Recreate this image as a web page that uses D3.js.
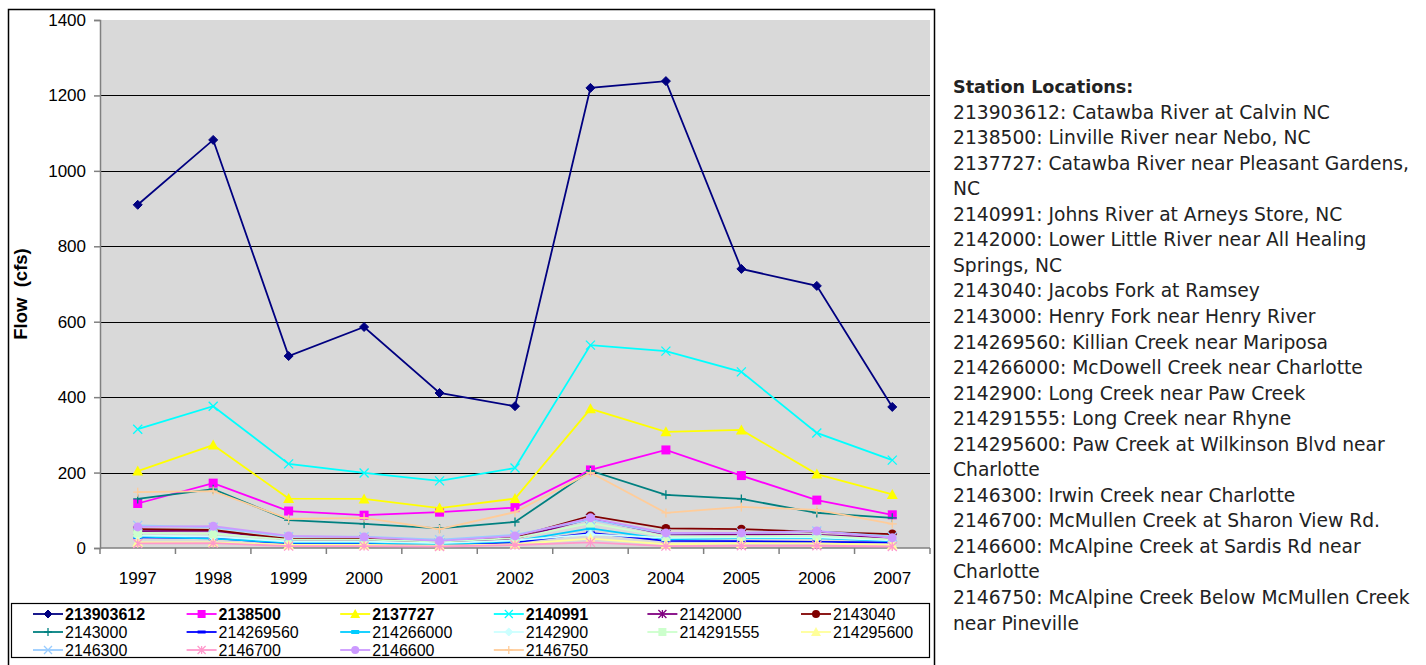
<!DOCTYPE html>
<html>
<head>
<meta charset="utf-8">
<script src="https://cdn.jsdelivr.net/npm/d3@7"></script>
<style>
  html, body { margin: 0; padding: 0; background: #fff; }
  svg { display: block; }
</style>
</head>
<body>
<svg id="chart" width="1426" height="665"></svg>
<script>
// Annual mean flow (cfs) by gauging station, 1997-2007
const years = ["1997","1998","1999","2000","2001","2002","2003","2004","2005","2006","2007"];
const yTicks = [0, 200, 400, 600, 800, 1000, 1200, 1400];

const s213903612 = [910, 1082, 509, 586, 411, 376, 1220, 1238, 740, 695, 374];
const s2138500   = [118, 172, 98, 87, 95, 107, 207, 260, 192, 127, 88];
const s2137727   = [204, 273, 131, 130, 106, 131, 369, 308, 313, 196, 142];
const s2140991   = [315, 376, 223, 199, 178, 212, 538, 522, 467, 305, 233];
const s2142000   = [45, 46, 22, 22, 15, 25, 78, 36, 36, 35, 27];
const s2143040   = [50, 48, 24, 25, 17, 29, 85, 52, 50, 43, 37];
const s2143000   = [130, 156, 74, 64, 52, 69, 205, 141, 130, 93, 80];
const s214269560 = [28, 26, 12, 12, 8, 15, 40, 19, 18, 16, 15];
const s214266000 = [30, 25, 14, 14, 10, 18, 52, 23, 26, 26, 18];
const s2142900   = [33, 30, 17, 17, 13, 20, 36, 27, 28, 28, 20];
const s214291555 = [40, 38, 22, 22, 17, 26, 66, 30, 31, 33, 22];
const s214295600 = [15, 15, 8, 8, 6, 10, 25, 10, 12, 12, 8];
const s2146300   = [60, 55, 30, 30, 22, 35, 75, 38, 40, 45, 30];
const s2146700   = [12, 13, 5, 5, 4, 8, 15, 5, 6, 6, 4];
const s2146600   = [56, 58, 32, 29, 19, 32, 80, 40, 40, 45, 27];
const s2146750   = [148, 151, 77, 80, 50, 95, 200, 93, 109, 101, 64];

const seriesNames = ["213903612","2138500","2137727","2140991","2142000","2143040","2143000",
  "214269560","214266000","2142900","214291555","214295600","2146300","2146700","2146600","2146750"];
const seriesValues = [s213903612, s2138500, s2137727, s2140991, s2142000, s2143040, s2143000,
  s214269560, s214266000, s2142900, s214291555, s214295600, s2146300, s2146700, s2146600, s2146750];
const seriesColors = ["#000080","#FF00FF","#FFFF00","#00FFFF","#800080","#800000","#008080",
  "#0000FF","#00CCFF","#CCFFFF","#CCFFCC","#FFFF99","#99CCFF","#FF99CC","#CC99FF","#FFCC99"];
const seriesMarkers = ["diamond","square","triangle","x","star","circle","plus",
  "dash","bar","diamond","square","triangle","x","star","circle","plus"];
const boldSeries = ["213903612","2138500","2137727","2140991"];

const stationTitle = "Station Locations:";
const stationLines = [
  "213903612: Catawba River at Calvin NC",
  "2138500: Linville River near Nebo, NC",
  "2137727: Catawba River near Pleasant Gardens,",
  "NC",
  "2140991: Johns River at Arneys Store, NC",
  "2142000: Lower Little River near All Healing",
  "Springs, NC",
  "2143040: Jacobs Fork at Ramsey",
  "2143000: Henry Fork near Henry River",
  "214269560: Killian Creek near Mariposa",
  "214266000: McDowell Creek near Charlotte",
  "2142900: Long Creek near Paw Creek",
  "214291555: Long Creek near Rhyne",
  "214295600: Paw Creek at Wilkinson Blvd near",
  "Charlotte",
  "2146300: Irwin Creek near Charlotte",
  "2146700: McMullen Creek at Sharon View Rd.",
  "2146600: McAlpine Creek at Sardis Rd near",
  "Charlotte",
  "2146750: McAlpine Creek Below McMullen Creek",
  "near Pineville"
];

const series = seriesNames.map((name, i) => ({
  name, values: seriesValues[i], color: seriesColors[i], marker: seriesMarkers[i]
}));

const svg = d3.select("#chart");
const font = "'Liberation Sans', Arial, sans-serif";

// Chart frame
svg.append("rect")
  .attr("x", 8.5).attr("y", 9.5).attr("width", 926).attr("height", 670)
  .attr("fill", "#fff").attr("stroke", "#000").attr("stroke-width", 1.5);

const plot = { left: 100, top: 20, right: 930, bottom: 548 };

const x = d3.scaleBand().domain(years).range([plot.left, plot.right]);
const y = d3.scaleLinear().domain([0, 1400]).range([plot.bottom, plot.top]);

// Plot background
svg.append("rect")
  .attr("x", plot.left).attr("y", plot.top)
  .attr("width", plot.right - plot.left).attr("height", plot.bottom - plot.top)
  .attr("fill", "#D9D9D9");

// Horizontal gridlines
svg.append("g").selectAll("line")
  .data(yTicks.filter(t => t > 0 && t < 1400))
  .join("line")
  .attr("x1", plot.left).attr("x2", plot.right)
  .attr("y1", d => Math.round(y(d)) + 0.5).attr("y2", d => Math.round(y(d)) + 0.5)
  .attr("stroke", "#000").attr("stroke-width", 1);

// Y axis
const yAxis = svg.append("g")
  .attr("transform", `translate(${plot.left},0)`)
  .call(d3.axisLeft(y).tickValues(yTicks).tickSize(6).tickPadding(8).tickFormat(d3.format("d")));
yAxis.select(".domain").attr("stroke", "#808080").attr("stroke-width", 1.5);
yAxis.selectAll(".tick line").attr("stroke", "#808080").attr("stroke-width", 1.5);
yAxis.selectAll("text").attr("font-family", font).attr("font-size", 17).attr("fill", "#000");

// X axis with ticks between categories
const xAxisG = svg.append("g").attr("transform", `translate(0,${plot.bottom})`);
xAxisG.append("line")
  .attr("x1", plot.left).attr("x2", plot.right)
  .attr("stroke", "#808080").attr("stroke-width", 1.5);
const boundaries = years.map(d => x(d)).concat([x(years[years.length - 1]) + x.bandwidth()]);
xAxisG.selectAll("line.tk").data(boundaries).join("line").attr("class", "tk")
  .attr("x1", d => d).attr("x2", d => d).attr("y1", 0).attr("y2", 6)
  .attr("stroke", "#808080").attr("stroke-width", 1.5);
xAxisG.selectAll("text").data(years).join("text")
  .attr("x", d => x(d) + x.bandwidth() / 2).attr("y", 36)
  .attr("text-anchor", "middle")
  .attr("font-family", font).attr("font-size", 17)
  .text(d => d);

// Y axis title
svg.append("text")
  .attr("transform", `translate(27,${(plot.top + plot.bottom) / 2 + 10}) rotate(-90)`)
  .attr("text-anchor", "middle")
  .attr("font-family", font).attr("font-size", 18.5).attr("font-weight", "bold")
  .attr("xml:space", "preserve")
  .text("Flow  (cfs)");

// Marker drawing
function drawMarker(g, type, color, size) {
  const s = size;
  switch (type) {
    case "diamond":
      g.append("path").attr("d", `M0,${-s}L${s},0L0,${s}L${-s},0Z`).attr("fill", color).attr("stroke", color);
      break;
    case "square":
      g.append("rect").attr("x", -s).attr("y", -s).attr("width", 2 * s).attr("height", 2 * s).attr("fill", color);
      break;
    case "triangle":
      g.append("path").attr("d", `M0,${-s - 1}L${s + 1},${s}L${-s - 1},${s}Z`).attr("fill", color);
      break;
    case "x":
      g.append("path").attr("d", `M${-s},${-s}L${s},${s}M${-s},${s}L${s},${-s}`)
        .attr("stroke", color).attr("stroke-width", 1.3).attr("fill", "none");
      break;
    case "star":
      g.append("path").attr("d", `M${-s},${-s}L${s},${s}M${-s},${s}L${s},${-s}M0,${-s}L0,${s}`)
        .attr("stroke", color).attr("stroke-width", 1.3).attr("fill", "none");
      break;
    case "circle":
      g.append("circle").attr("r", s).attr("fill", color);
      break;
    case "plus":
      g.append("path").attr("d", `M${-s},0L${s},0M0,${-s}L0,${s}`)
        .attr("stroke", color).attr("stroke-width", 1.3).attr("fill", "none");
      break;
    case "dash":
      g.append("rect").attr("x", -s).attr("y", -1.5).attr("width", 2 * s).attr("height", 3).attr("fill", color);
      break;
    case "bar":
      g.append("rect").attr("x", -s).attr("y", -2).attr("width", 2 * s).attr("height", 4).attr("fill", color);
      break;
  }
}

const line = d3.line()
  .x((d, i) => x(years[i]) + x.bandwidth() / 2)
  .y(d => y(d));

const seriesG = svg.append("g").selectAll("g.series").data(series).join("g").attr("class", "series");
seriesG.append("path")
  .attr("d", d => line(d.values))
  .attr("fill", "none")
  .attr("stroke", d => d.color)
  .attr("stroke-width", 1.8);
seriesG.each(function (d) {
  const g = d3.select(this);
  d.values.forEach((v, i) => {
    const m = g.append("g")
      .attr("transform", `translate(${x(years[i]) + x.bandwidth() / 2},${y(v)})`);
    drawMarker(m, d.marker, d.color, 4.5);
  });
});

// Legend
const legend = svg.append("g");
legend.append("rect")
  .attr("x", 11.5).attr("y", 603.5).attr("width", 918).attr("height", 54)
  .attr("fill", "#fff").attr("stroke", "#000").attr("stroke-width", 1.2);
const colW = 153.6, rowH = 18;
series.forEach((d, i) => {
  const col = i % 6, row = Math.floor(i / 6);
  const lx = 33 + col * colW, ly = 614 + row * rowH;
  const g = legend.append("g");
  g.append("line").attr("x1", lx).attr("x2", lx + 30).attr("y1", ly).attr("y2", ly)
    .attr("stroke", d.color).attr("stroke-width", 1.8);
  const m = g.append("g").attr("transform", `translate(${lx + 15},${ly})`);
  drawMarker(m, d.marker, d.color, 4);
  g.append("text").attr("x", lx + 32).attr("y", ly + 6)
    .attr("font-family", font).attr("font-size", 16)
    .attr("font-weight", boldSeries.includes(d.name) ? "bold" : "normal")
    .text(d.name);
});

// Station location notes
const notes = svg.append("g").attr("font-family", "'DejaVu Sans', Verdana, sans-serif").attr("font-size", 18.7).attr("fill", "#222");
notes.append("text").attr("x", 953).attr("y", 93).attr("font-size", 17.6).attr("font-weight", "bold").text(stationTitle);
notes.selectAll("text.ln").data(stationLines).join("text").attr("class", "ln")
  .attr("x", 953).attr("y", (d, i) => 93 + (i + 1) * 25.55)
  .text(d => d);
</script>
</body>
</html>
